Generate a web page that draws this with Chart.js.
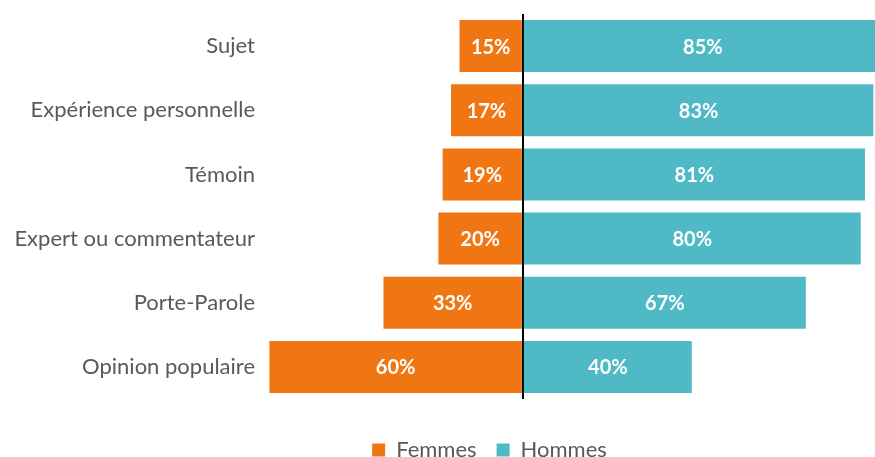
<!DOCTYPE html>
<html>
<head>
<meta charset="utf-8">
<script src="https://cdn.jsdelivr.net/npm/chart.js@4"></script>
<style>
  html, body { margin: 0; padding: 0; background: #fff; overflow: hidden; }
  #wrap { width: 979px; height: 471px; }
</style>
</head>
<body>
<div id="wrap"><canvas id="chart"></canvas></div>
<script>
// catégories et valeurs (%)
const categories = ['Sujet', 'Expérience personnelle', 'Témoin', 'Expert ou commentateur', 'Porte-Parole', 'Opinion populaire'];
const femmes = [15, 17, 19, 20, 33, 60];
const hommes = [85, 83, 81, 80, 67, 40];

const ORANGE = '#F07613';
const TEAL = '#4FB9C6';
const GREY = '#595959';

// étiquettes blanches au centre des barres
const barLabels = {
    id: 'barLabels',
    afterDatasetsDraw(chart) {
        const ctx = chart.ctx;
        ctx.save();
        ctx.fillStyle = '#fff';
        ctx.font = 'bold 20px Lato';
        ctx.textAlign = 'center';
        ctx.textBaseline = 'middle';
        chart.data.datasets.forEach((ds, i) => {
            chart.getDatasetMeta(i).data.forEach((bar, j) => {
                const x = (bar.x + bar.base) / 2;
                ctx.fillText(Math.abs(ds.data[j]) + '%', x, bar.y + 1);
            });
        });
        ctx.restore();
    }
};

const ctx = document.getElementById('chart').getContext('2d');
new Chart(ctx, {
    type: 'bar',
    data: {
        labels: categories,
        datasets: [
            { label: 'Femmes', data: femmes.map(v => -v), backgroundColor: ORANGE, barPercentage: 0.81, categoryPercentage: 1 },
            { label: 'Hommes', data: hommes, backgroundColor: TEAL, barPercentage: 0.81, categoryPercentage: 1 }
        ]
    },
    options: {
        indexAxis: 'y',
        responsive: true,
        maintainAspectRatio: false,
        animation: false,
        layout: { padding: { top: 14, right: 0, left: 0, bottom: 0 } },
        scales: {
            x: {
                stacked: true,
                min: -62,
                max: 108,
                ticks: { display: false },
                border: { display: false },
                grid: {
                    drawTicks: false,
                    lineWidth: 2,
                    color: c => c.tick && c.tick.value === 0 ? '#000' : 'rgba(0,0,0,0)'
                },
                afterFit: s => { s.height = 20; }
            },
            y: {
                stacked: true,
                grid: { display: false, drawTicks: false },
                border: { display: false },
                ticks: { color: GREY, font: { family: 'Lato', size: 22 }, padding: 6 },
                afterFit: s => { s.width = 261; s.paddingTop = 0; s.paddingBottom = 0; }
            }
        },
        plugins: {
            legend: {
                position: 'bottom',
                labels: {
                    color: GREY,
                    font: { family: 'Lato', size: 22 },
                    boxWidth: 13,
                    boxHeight: 13,
                    padding: 20
                }
            },
            tooltip: { enabled: false }
        }
    },
    plugins: [barLabels]
});
</script>
</body>
</html>
